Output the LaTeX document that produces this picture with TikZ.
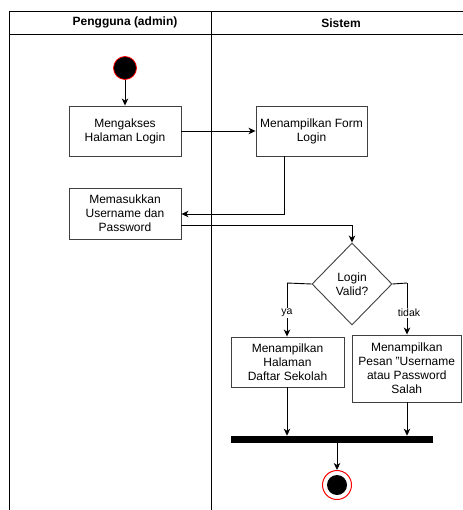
\documentclass[tikz,border=0pt]{standalone}
\usepackage{fontspec}
\setmainfont{Liberation Sans}
\usetikzlibrary{shapes.geometric,arrows.meta}
\tikzset{
  actbox/.style={draw=black!75, line width=0.9pt, fill=white, inner sep=1pt, align=center, font=\fontsize{12}{14}\selectfont},
  flow/.style={draw=black, line width=0.9pt, -{Stealth[length=7pt,width=6.5pt,inset=2pt]}},
  lane/.style={draw=black, line width=0.9pt},
  lbl/.style={fill=white, inner sep=1pt, font=\fontsize{10.5}{12}\selectfont},
}
\begin{document}
\begin{tikzpicture}[x=1pt,y=-1pt]
\useasboundingbox (0,0) rectangle (462,510);
% swimlanes
\draw[lane] (9,510) -- (9,11) -- (470,11);
\draw[lane] (9,34) -- (470,34);
\draw[lane] (211,11) -- (211,510);
\node[font=\bfseries\fontsize{12}{14}\selectfont] (h1) at (125,22.5) {Pengguna (admin)};
\node[font=\bfseries\fontsize{12}{14}\selectfont] (h2) at (341,23) {Sistem};
% start
\node[circle, draw=red, line width=0.8pt, fill=black, minimum size=23pt, inner sep=0] (start) at (125,68) {};
% boxes
\node[actbox, minimum width=112pt, minimum height=50pt] (b1) at (125,131) {Mengakses\\Halaman Login};
\node[actbox, minimum width=111pt, minimum height=50pt] (b2) at (311.5,131) {Menampilkan Form\\Login};
\node[actbox, minimum width=112pt, minimum height=51pt] (b3) at (125,213.5) {Memasukkan\\Username dan\\Password};
\node[diamond, draw=black!75, line width=0.9pt, fill=white, minimum width=80pt, minimum height=82pt, inner sep=0, align=center, font=\fontsize{12}{14}\selectfont] (dec) at (352,284) {Login\\Valid?};
\node[actbox, minimum width=113pt, minimum height=50pt] (b4) at (287.5,362) {Menampilkan\\Halaman\\Daftar Sekolah};
\node[actbox, minimum width=109.5pt, minimum height=67pt] (b5) at (406.75,368.5) {Menampilkan\\Pesan "Username\\atau Password\\Salah};
\node[draw=black, fill=black, minimum width=201pt, minimum height=6pt, inner sep=0, line width=0.5pt] (bar) at (331.5,439) {};
% end
\node[circle, draw=red, line width=1pt, fill=white, minimum size=29pt, inner sep=0] (endo) at (337,485) {};
\node[circle, fill=black, minimum size=20pt, inner sep=0] (endi) at (337,485) {};
% coordinates
\coordinate (c1) at (284,214);
\coordinate (c2) at (352,225);
\coordinate (c3) at (287,283);
\coordinate (c4) at (407,283);
% connectors
\draw[flow] (start) -- (b1);
\draw[flow] (b1) -- (b2);
\draw[flow] (b2.south -| c1) -- (c1) -- (b3.east |- c1);
\draw[flow] (b3.east |- c2) -- (c2) -- (dec.north);
\draw[lane] (dec.west) -- (c3);
\draw[flow] (c3) -- (b4.north -| c3);
\draw[lane] (dec.east) -- (c4);
\draw[flow] (c4) -- (b5.north -| c4);
\draw[flow] (b4.south -| c3) -- (bar.north -| c3);
\draw[flow] (b5.south -| c4) -- (bar.north -| c4);
\draw[flow] (bar.south -| endo) -- (endo.north);
\node[lbl] (ya) at (287,313) {ya};
\node[lbl] (tidak) at (409,313) {tidak};
\end{tikzpicture}
\end{document}
